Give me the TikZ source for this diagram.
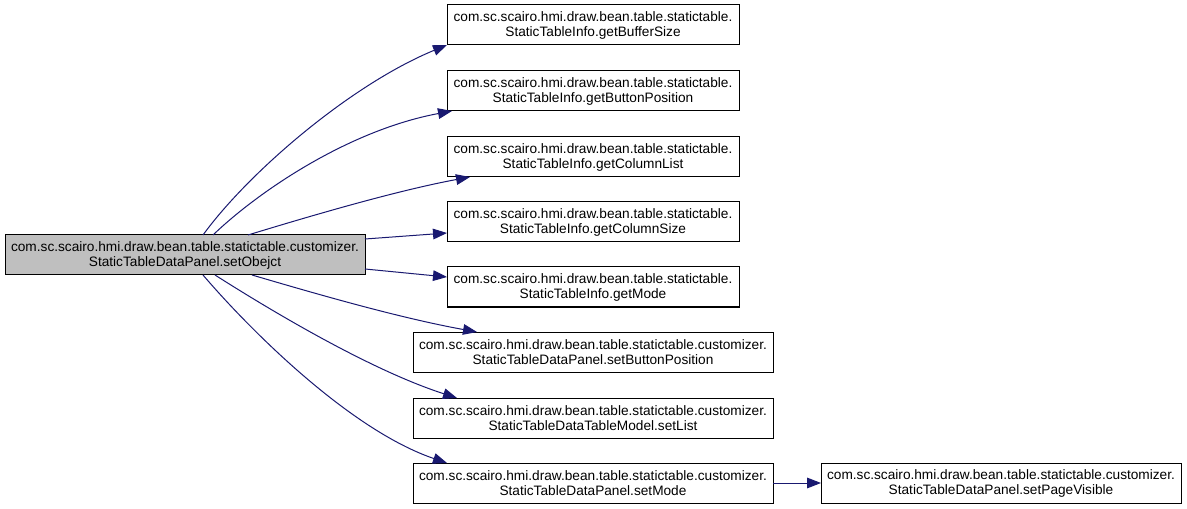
\documentclass[tikz,border=0pt]{standalone}
\usepackage{fontspec}
\setmainfont{Liberation Sans}
\usetikzlibrary{arrows.meta,calc}
\definecolor{edgeblue}{HTML}{191970}
\definecolor{mainfill}{HTML}{BFBFBF}
\begin{document}
\begin{tikzpicture}[x=0.75pt,y=-0.75pt,
  fn/.style={draw=black,line width=0.75pt,fill=white,inner sep=0pt,outer sep=0pt,
    minimum height=30pt,align=center,font=\fontsize{10.25pt}{11.25pt}\selectfont},
  wide/.style={fn,minimum width=270pt},
  narrow/.style={fn,minimum width=219pt},
  edge/.style={draw=edgeblue,line width=0.75pt,-{Triangle[length=10.5pt,width=8pt]}}]
\useasboundingbox (0,0) rectangle (1187,509);
\node[wide,fill=mainfill] (main) at (185,255) {com.sc.scairo.hmi.draw.bean.table.statictable.customizer.\\StaticTableDataPanel.setObejct};
\node[narrow] (b1) at (593,25) {com.sc.scairo.hmi.draw.bean.table.statictable.\\StaticTableInfo.getBufferSize};
\node[narrow] (b2) at (593,91) {com.sc.scairo.hmi.draw.bean.table.statictable.\\StaticTableInfo.getButtonPosition};
\node[narrow] (b3) at (593,157) {com.sc.scairo.hmi.draw.bean.table.statictable.\\StaticTableInfo.getColumnList};
\node[narrow] (b4) at (593,222) {com.sc.scairo.hmi.draw.bean.table.statictable.\\StaticTableInfo.getColumnSize};
\node[narrow] (b5) at (593,287) {com.sc.scairo.hmi.draw.bean.table.statictable.\\StaticTableInfo.getMode};
\node[wide] (b6) at (593,352) {com.sc.scairo.hmi.draw.bean.table.statictable.customizer.\\StaticTableDataPanel.setButtonPosition};
\node[wide] (b7) at (593,418) {com.sc.scairo.hmi.draw.bean.table.statictable.customizer.\\StaticTableDataTableModel.setList};
\node[wide] (b8) at (593,483) {com.sc.scairo.hmi.draw.bean.table.statictable.customizer.\\StaticTableDataPanel.setMode};
\node[wide] (b9) at (1001,483) {com.sc.scairo.hmi.draw.bean.table.statictable.customizer.\\StaticTableDataPanel.setPageVisible};
\draw[edge] ($(main.north west)+(198,0)$) .. controls (248,173) and (350,85) .. (b1.south west);
\draw[edge] ($(main.north west)+(208,0)$) .. controls (260,190) and (350,130) .. ($(b2.south west)+(5,0)$);
\draw[edge] ($(main.north west)+(243,0)$) .. controls (320,213) and (400,190) .. ($(b3.south west)+(23,0)$);
\draw[edge] ($(main.east)+(0,-16)$) -- ($(b4.west)+(0,11)$);
\draw[edge] ($(main.east)+(0,14)$) -- ($(b5.west)+(0,-10)$);
\draw[edge] ($(main.south west)+(247,0)$) .. controls (320,295) and (400,318) .. ($(b6.north west)+(64,0)$);
\draw[edge] ($(main.south west)+(210,0)$) .. controls (270,310) and (370,370) .. ($(b7.north west)+(44,0)$);
\draw[edge] ($(main.south west)+(198,0)$) .. controls (250,330) and (350,430) .. ($(b8.north west)+(34,0)$);
\draw[edge] (b8.east) -- (b9.west);
\end{tikzpicture}
\end{document}
